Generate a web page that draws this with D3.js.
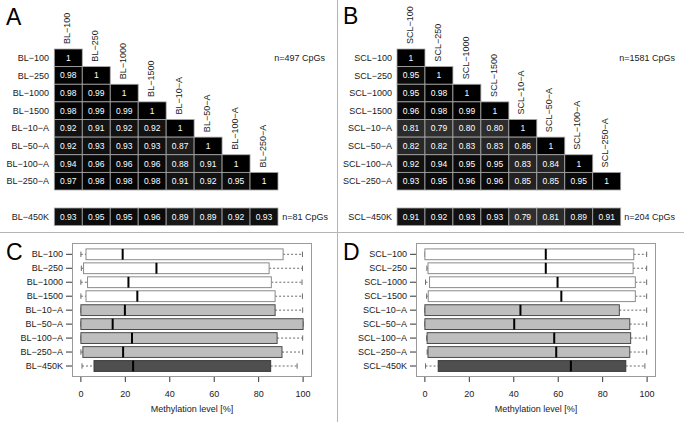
<!DOCTYPE html>
<html><head><meta charset="utf-8">
<script src="https://cdn.jsdelivr.net/npm/d3@7"></script>
<style>
body{margin:0;background:#fff;}
svg{display:block;font-family:"Liberation Sans",Arial,Helvetica,sans-serif;}
</style></head>
<body>
<svg id="chart" width="684" height="422"></svg>
<script>
// ---------- data ----------
const blNames = ["BL−100","BL−250","BL−1000","BL−1500","BL−10−A","BL−50−A","BL−100−A","BL−250−A"];
const sclNames = ["SCL−100","SCL−250","SCL−1000","SCL−1500","SCL−10−A","SCL−50−A","SCL−100−A","SCL−250−A"];
const blRef = "BL−450K";
const sclRef = "SCL−450K";

const blCorr = [
  [1],
  [0.98,1],
  [0.98,0.99,1],
  [0.98,0.99,0.99,1],
  [0.92,0.91,0.92,0.92,1],
  [0.92,0.93,0.93,0.93,0.87,1],
  [0.94,0.96,0.96,0.96,0.88,0.91,1],
  [0.97,0.98,0.98,0.98,0.91,0.92,0.95,1]
];
const bl450K = [0.93,0.95,0.95,0.96,0.89,0.89,0.92,0.93];
const blN = "n=497 CpGs", bl450N = "n=81 CpGs";

const sclCorr = [
  [1],
  [0.95,1],
  [0.95,0.98,1],
  [0.96,0.98,0.99,1],
  [0.81,0.79,0.80,0.80,1],
  [0.82,0.82,0.83,0.83,0.86,1],
  [0.92,0.94,0.95,0.95,0.83,0.84,1],
  [0.93,0.95,0.96,0.96,0.85,0.85,0.95,1]
];
const scl450K = [0.91,0.92,0.93,0.93,0.79,0.81,0.89,0.91];
const sclN = "n=1581 CpGs", scl450N = "n=204 CpGs";

// box stats: [lower whisker, Q1, median, Q3, upper whisker]
const blBoxes = [
  [0,2.3,18.8,91,99.7],
  [0.2,1.2,34,84.7,99.7],
  [0,3,21.4,85.7,99.5],
  [0,2.3,25.4,87.4,99.7],
  [0,0,19.8,87.4,99.8],
  [0,0,14.3,100,100],
  [0,0,23,88.3,99.8],
  [0,0.9,19,90.5,99.8],
  [0.5,5.9,23.5,85.4,97.3]
];
const sclBoxes = [
  [0,0,54.4,94,99.8],
  [0.9,1.4,54.4,93.7,99.8],
  [0.3,2.1,59.7,94.7,99.8],
  [0.8,1.5,61.4,94.7,99.8],
  [0,0,43,87.5,99.8],
  [0,0,40.2,92.2,99.8],
  [0.8,1,58.2,92.6,99.8],
  [1,1.4,59.1,92.2,99.8],
  [0.3,6,65.7,90.4,99]
];
const boxGroups = ["plain","plain","plain","plain","amp","amp","amp","amp","array"];
const xTicks = [0,20,40,60,80,100];
const xTitle = "Methylation level [%]";
const panelLetters = ["A","B","C","D"];

// ---------- drawing ----------
const svg = d3.select("#chart");
const txt = "#1a1a1a";
const FS = "9px";
const cellColor = d3.scaleLinear().domain([0.75,1]).range(["#383838","#000000"]).clamp(true);
const fmt = v => v === 1 ? "1" : d3.format(".2f")(v);

// separators
svg.append("line").attr("x1",337.5).attr("x2",337.5).attr("y1",0).attr("y2",422).attr("stroke","#b5b5b5");
svg.append("line").attr("x1",0).attr("x2",684).attr("y1",232.5).attr("y2",232.5).attr("stroke","#b5b5b5");

function heatmap(x0, names, corr, ref, refVals, nLabel, refN, labelRight, nRight, refNRight){
  const g = svg.append("g");
  const xs = d3.scaleBand().domain(names).range([x0, x0+223.7]);
  const ys = d3.scaleBand().domain(names).range([49, 190]);
  const refY = 208, refH = ys.bandwidth();
  corr.forEach((row,i)=>{
    row.forEach((v,j)=>{
      g.append("rect").attr("x",xs(names[j])).attr("y",ys(names[i]))
        .attr("width",xs.bandwidth()).attr("height",ys.bandwidth())
        .attr("fill",cellColor(v)).attr("stroke","#a8a8a8").attr("stroke-width",0.8);
      g.append("text").attr("x",xs(names[j])+xs.bandwidth()/2).attr("y",ys(names[i])+ys.bandwidth()/2)
        .attr("dy","0.35em").attr("text-anchor","middle").attr("fill","#fff")
        .attr("font-size","8.5px").text(fmt(v));
    });
    g.append("text").attr("x",labelRight).attr("y",ys(names[i])+ys.bandwidth()/2).attr("dy","0.35em")
      .attr("text-anchor","end").attr("font-size",FS).attr("fill",txt).text(names[i]);
  });
  // column labels
  names.forEach((n,j)=>{
    const cx = xs(n)+xs.bandwidth()/2 - 1.5;
    const cy = ys(n) - 5;
    g.append("text").attr("transform",`translate(${cx},${cy}) rotate(-90)`).attr("dy","0.35em")
      .attr("text-anchor","start").attr("font-size",FS).attr("fill",txt).text(n);
  });
  // 450K row
  refVals.forEach((v,j)=>{
    g.append("rect").attr("x",xs(names[j])).attr("y",refY).attr("width",xs.bandwidth()).attr("height",refH)
      .attr("fill",cellColor(v)).attr("stroke","#a8a8a8").attr("stroke-width",0.8);
    g.append("text").attr("x",xs(names[j])+xs.bandwidth()/2).attr("y",refY+refH/2).attr("dy","0.35em")
      .attr("text-anchor","middle").attr("fill","#fff").attr("font-size","8.5px").text(fmt(v));
  });
  g.append("text").attr("x",labelRight).attr("y",refY+refH/2).attr("dy","0.35em")
    .attr("text-anchor","end").attr("font-size",FS).attr("fill",txt).text(ref);
  g.append("text").attr("x",nRight).attr("y",ys(names[0])+ys.bandwidth()/2).attr("dy","0.35em")
    .attr("text-anchor","end").attr("font-size",FS).attr("fill",txt).text(nLabel);
  g.append("text").attr("x",refNRight).attr("y",refY+refH/2).attr("dy","0.35em")
    .attr("text-anchor","end").attr("font-size",FS).attr("fill",txt).text(refN);
}

heatmap(54.3, blNames, blCorr, blRef, bl450K, blN, bl450N, 49, 325, 328);
heatmap(397, sclNames, sclCorr, sclRef, scl450K, sclN, scl450N, 392, 675, 675);

function boxpanel(left, right, names, boxes){
  const top = 243, bottom = 377;
  const g = svg.append("g");
  const x = d3.scaleLinear().domain([-4,104]).range([left,right]);
  const y = d3.scalePoint().domain(names).range([254.3, 366]);
  const bh = 10.8;
  const fills = {plain:"#ffffff", amp:"#bebebe", array:"#4f4f4f"};
  const strokes = {plain:"#8a8a8a", amp:"#4a4a4a", array:"#3a3a3a"};
  g.append("rect").attr("x",left+0.5).attr("y",top+0.5).attr("width",right-left-1).attr("height",bottom-top-1)
    .attr("fill","none").attr("stroke","#9a9a9a");
  boxes.forEach((b,i)=>{
    const cy = y(names[i]);
    const grp = boxGroups[i];
    const wcol = "#6a6a6a";
    if (b[1] > b[0]) {
      g.append("line").attr("x1",x(b[0])).attr("x2",x(b[1])).attr("y1",cy).attr("y2",cy)
        .attr("stroke",wcol).attr("stroke-dasharray","2,2");
    }
    if (b[4] > b[3]) {
      g.append("line").attr("x1",x(b[3])).attr("x2",x(b[4])).attr("y1",cy).attr("y2",cy)
        .attr("stroke",wcol).attr("stroke-dasharray","2,2");
    }
    [b[0],b[4]].forEach(v=>{
      g.append("line").attr("x1",x(v)).attr("x2",x(v)).attr("y1",cy-2.7).attr("y2",cy+2.7).attr("stroke",wcol);
    });
    g.append("rect").attr("x",x(b[1])).attr("y",cy-bh/2).attr("width",x(b[3])-x(b[1])).attr("height",bh)
      .attr("fill",fills[grp]).attr("stroke",strokes[grp]);
    g.append("line").attr("x1",x(b[2])).attr("x2",x(b[2])).attr("y1",cy-bh/2).attr("y2",cy+bh/2)
      .attr("stroke","#000").attr("stroke-width",2);
    g.append("line").attr("x1",left-6).attr("x2",left).attr("y1",cy).attr("y2",cy).attr("stroke","#333");
    g.append("text").attr("x",left-9).attr("y",cy).attr("dy","0.35em").attr("text-anchor","end")
      .attr("font-size",FS).attr("fill",txt).text(names[i]);
  });
  xTicks.forEach(t=>{
    g.append("line").attr("x1",x(t)).attr("x2",x(t)).attr("y1",bottom).attr("y2",bottom+5).attr("stroke","#333");
    g.append("text").attr("x",x(t)).attr("y",394).attr("dy","0.35em").attr("text-anchor","middle")
      .attr("font-size",FS).attr("fill",txt).text(t);
  });
  g.append("text").attr("x",(x(0)+x(100))/2).attr("y",409).attr("dy","0.35em").attr("text-anchor","middle")
    .attr("font-size","9px").attr("fill",txt).text(xTitle);
}

boxpanel(72, 312, blNames.concat([blRef]), blBoxes);
boxpanel(416, 656, sclNames.concat([sclRef]), sclBoxes);

// panel letters
const letterPos = [[6,25],[343,24],[6,260],[343,260]];
panelLetters.forEach((L,i)=>{
  svg.append("text").attr("x",letterPos[i][0]).attr("y",letterPos[i][1]).attr("font-size","23px")
    .attr("fill","#000").text(L);
});
</script>
</body></html>
